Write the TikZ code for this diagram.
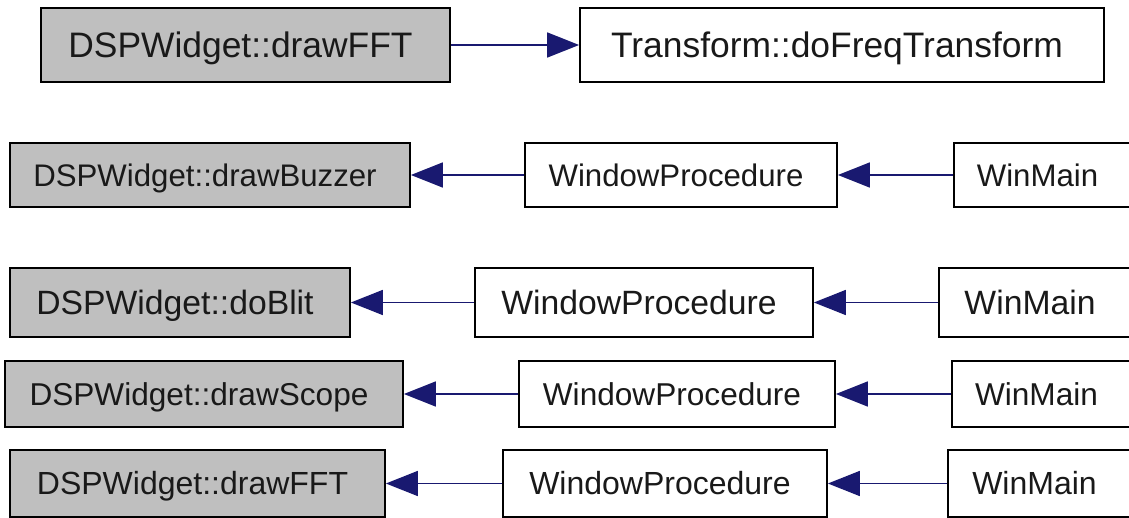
\documentclass[tikz,border=0pt]{standalone}
\usepackage{fontspec}
\setmainfont{Liberation Sans}
\usetikzlibrary{arrows.meta}
\definecolor{edgeblue}{HTML}{191970}
\definecolor{boxgray}{HTML}{BFBFBF}
\tikzset{
  fn/.style={draw=black, line width=1.8pt, inner sep=0pt, rectangle, text=black!90,
    text depth=0pt, execute at end node={\kern10pt}},
  hl/.style={fn, fill=boxgray},
  call/.style={draw=edgeblue, line width=1.8pt, -{Triangle[length=32pt,width=25pt]}},
  fsA/.style={font=\fontsize{35.4}{40}\selectfont, text height=25.3pt},
  fsB/.style={font=\fontsize{31.2}{36}\selectfont, text height=22.3pt},
  fsC/.style={font=\fontsize{33.7}{38}\selectfont, text height=24.1pt},
  fsD/.style={font=\fontsize{31.6}{36}\selectfont, text height=22.6pt},
  fsE/.style={font=\fontsize{32}{36}\selectfont, text height=22.9pt},
}
\begin{document}
\begin{tikzpicture}[x=1pt, y=-1pt]
\useasboundingbox (0,0) rectangle (1129,518);
\clip (0,0) rectangle (1129,518);

% drawFFT calls
\node[hl, fsA, minimum width=409pt, minimum height=74pt] (a1) at (245.5,45) {DSPWidget::drawFFT};
\node[fn, fsA, minimum width=524pt, minimum height=74pt] (t1) at (842,45) {Transform::doFreqTransform};
\draw[call] (a1) -- (t1);

% drawBuzzer callers
\node[hl, fsB, minimum width=400pt, minimum height=64pt] (a2) at (210,175) {DSPWidget::drawBuzzer};
\node[fn, fsB, minimum width=312pt, minimum height=64pt] (w2) at (681,175) {WindowProcedure};
\node[fn, fsB, minimum width=177pt, minimum height=64pt] (m2) at (1042.5,175) {WinMain};
\draw[call] (w2) -- (a2);
\draw[call] (m2) -- (w2);

% doBlit callers
\node[hl, fsC, minimum width=340pt, minimum height=69pt] (a3) at (180,302.5) {DSPWidget::doBlit};
\node[fn, fsC, minimum width=338pt, minimum height=69pt] (w3) at (644,302.5) {WindowProcedure};
\node[fn, fsC, minimum width=192pt, minimum height=69pt] (m3) at (1035,302.5) {WinMain};
\draw[call] (w3) -- (a3);
\draw[call] (m3) -- (w3);

% drawScope callers
\node[hl, fsD, minimum width=398pt, minimum height=66pt] (a4) at (204,394) {DSPWidget::drawScope};
\node[fn, fsD, minimum width=316pt, minimum height=66pt] (w4) at (677,394) {WindowProcedure};
\node[fn, fsD, minimum width=179pt, minimum height=66pt] (m4) at (1041.5,394) {WinMain};
\draw[call] (w4) -- (a4);
\draw[call] (m4) -- (w4);

% drawFFT callers
\node[hl, fsE, minimum width=375pt, minimum height=67pt] (a5) at (197.5,483.5) {DSPWidget::drawFFT};
\node[fn, fsE, minimum width=324pt, minimum height=67pt] (w5) at (665,483.5) {WindowProcedure};
\node[fn, fsE, minimum width=183pt, minimum height=67pt] (m5) at (1039.5,483.5) {WinMain};
\draw[call] (w5) -- (a5);
\draw[call] (m5) -- (w5);
\end{tikzpicture}
\end{document}
